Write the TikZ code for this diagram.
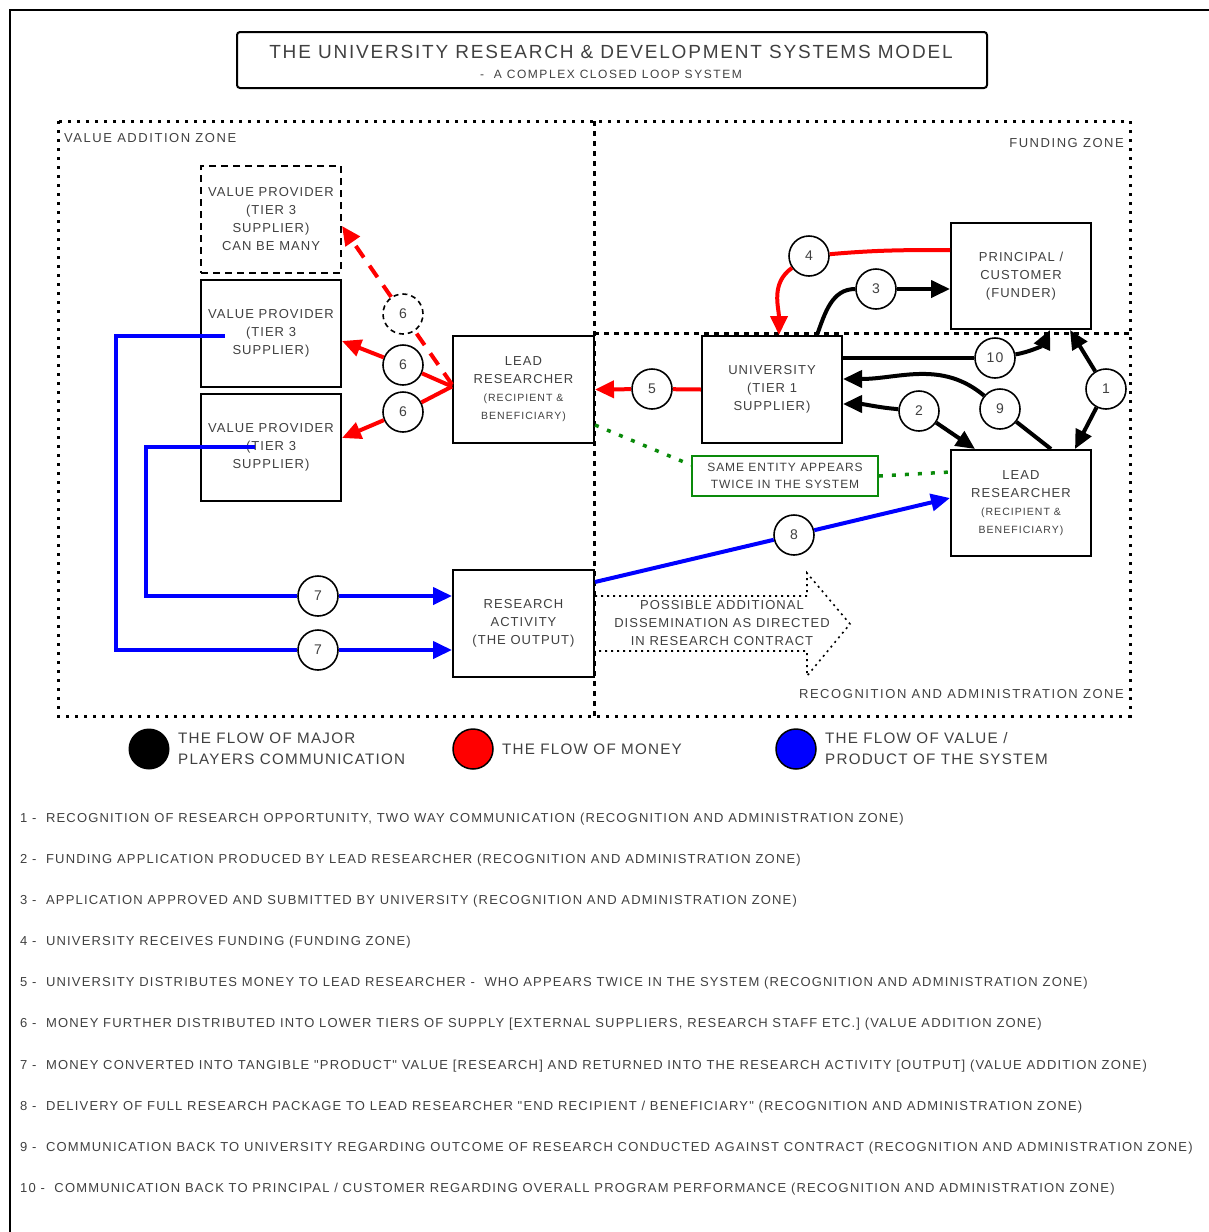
\documentclass[tikz,border=0pt]{standalone}
\usepackage{fontspec}
\setmainfont{Liberation Sans}[LetterSpace=8, Ligatures=TeXOff]
\usetikzlibrary{arrows.meta}
\definecolor{txt}{HTML}{404040}
\definecolor{sgreen}{HTML}{0A8A0A}
\newcommand\myfs[2]{\fontsize{#1pt}{#2pt}\selectfont}
\newcommand\myls[1]{\addfontfeatures{LetterSpace=#1}}
\begin{document}
\begin{tikzpicture}[x=1pt,y=1pt,
  >={Triangle[length=19pt,width=17pt]},
  box/.style={draw, line width=2pt, minimum width=140pt, minimum height=107pt, align=center, text=txt, inner sep=0pt, font=\myfs{13}{18}},
  circ/.style={circle, draw, line width=1.6pt, minimum size=40pt, inner sep=0pt, fill=white, text=txt, font=\myfs{14}{14}},
  comm/.style={line width=4pt, draw=black},
  money/.style={line width=4pt, draw=red},
  value/.style={line width=4pt, draw=blue},
  zone/.style={line width=3pt, dash pattern=on 3pt off 6pt},
  zonediv/.style={line width=3pt, dash pattern=on 5pt off 5pt},
  lbl/.style={inner sep=0pt, text=txt, font=\myfs{13}{18}},
  zlbl/.style={inner sep=0pt, text=txt, font=\myfs{13}{18}\myls{12}},
  listline/.style={anchor=west, inner sep=0pt, text=txt, font=\myfs{13}{15}\myls{9}},
  legtxt/.style={anchor=west, inner sep=0pt, text=txt, align=left, font=\myfs{15.2}{21}}
]
\useasboundingbox (0,0) rectangle (1209,-1232);
% outer frame
\draw[line width=2pt] (10,-1232) -- (10,-10) -- (1209,-10);
% title
\node[draw, rounded corners=3pt, line width=2pt, minimum width=750pt, minimum height=56pt, inner sep=0pt] (titlebox) at (612,-60) {};
\node[lbl, font=\myfs{19}{22}\myls{9.5}] (title) at (611,-52) {THE UNIVERSITY RESEARCH \& DEVELOPMENT SYSTEMS MODEL};
\node[lbl, font=\myfs{12}{14}\myls{13}] (subtitle) at (611,-74) {-\ \ A COMPLEX CLOSED LOOP SYSTEM};
% zones
\draw[zone] (58,-121) rectangle (1130,-716);
\draw[zonediv] (594,-121) -- (594,-716);
\draw[zonediv] (594,-333) -- (1130,-333);
\node[zlbl, anchor=west] (zva) at (64,-138) {VALUE ADDITION ZONE};
\node[zlbl, anchor=east] (zfu) at (1124,-143) {FUNDING ZONE};
\node[zlbl, anchor=east] (zra) at (1124,-694) {RECOGNITION AND ADMINISTRATION ZONE};
% boxes
\node[box, dash pattern=on 7pt off 5pt] (vp0) at (271,-219.5) {VALUE PROVIDER\\(TIER 3\\SUPPLIER)\\CAN BE MANY};
\node[box] (vp1) at (271,-333.5) {VALUE PROVIDER\\(TIER 3\\SUPPLIER)};
\node[box] (vp2) at (271,-447.5) {VALUE PROVIDER\\(TIER 3\\SUPPLIER)};
\node[box, minimum width=141pt] (lr1) at (523.5,-389.5) {LEAD\\RESEARCHER\\{\myfs{10.5}{16}\myls{10}(RECIPIENT \&}\\{\myfs{10.5}{16}\myls{10}BENEFICIARY)}};
\node[box, minimum width=141pt] (ra) at (523.5,-623.5) {RESEARCH\\ACTIVITY\\(THE OUTPUT)};
\node[box] (uni) at (772,-389.5) {UNIVERSITY\\(TIER 1\\SUPPLIER)};
\node[box, minimum height=106pt] (pc) at (1021,-276) {PRINCIPAL /\\CUSTOMER\\(FUNDER)};
\node[box, minimum height=106pt] (lr2) at (1021,-503) {LEAD\\RESEARCHER\\{\myfs{10.5}{16}\myls{10}(RECIPIENT \&}\\{\myfs{10.5}{16}\myls{10}BENEFICIARY)}};
\node[draw=sgreen, line width=1.8pt, minimum width=186pt, minimum height=40pt, inner sep=0pt, align=center, text=txt, font=\myfs{12}{17}] (sg) at (785,-476) {SAME ENTITY APPEARS\\TWICE IN THE SYSTEM};
% circles
\node[circ] (c4) at (809,-256) {4};
\node[circ] (c3) at (876,-289) {3};
\node[circ] (c10) at (995,-358) {10};
\node[circ] (c1) at (1106,-389) {1};
\node[circ] (c9) at (1000,-409) {9};
\node[circ] (c2) at (919,-411) {2};
\node[circ] (c5) at (652,-389) {5};
\node[circ, dash pattern=on 5pt off 4pt] (c6d) at (403,-314) {6};
\node[circ] (c6a) at (403,-365) {6};
\node[circ] (c6b) at (403,-412) {6};
\node[circ] (c8) at (794,-535) {8};
\node[circ] (c7a) at (318,-596) {7};
\node[circ] (c7b) at (318,-650) {7};
% money
\draw[money] ([yshift=26pt]pc.west) to[out=180,in=5] (c4);
\draw[money,->] (c4) to[out=215,in=90] ([xshift=7pt]uni.north);
\draw[money] (uni.west) -- (c5);
\draw[money,->] (c5) -- (lr1.east);
\draw[money] ([yshift=3pt]lr1.west) -- (c6a);
\draw[money,->] (c6a) -- ([yshift=-7.5pt]vp1.east);
\draw[money] ([yshift=3pt]lr1.west) -- (c6b);
\draw[money,->] (c6b) -- ([yshift=9.5pt]vp2.east);
\draw[money, dash pattern=on 14pt off 10pt] ([yshift=5pt]lr1.west) -- (c6d);
\draw[money, dash pattern=on 14pt off 10pt, ->] (c6d) -- ([yshift=-6.5pt]vp0.east);
% value
\coordinate (b1) at (225,-336);
\coordinate (b2) at (255,-447);
\draw[value] (b1) -- ++(-109,0) |- (c7b);
\draw[value,->] (c7b) -- (c7b -| ra.west);
\draw[value] (b2) -- ++(-109,0) |- (c7a);
\draw[value,->] (c7a) -- (c7a -| ra.west);
\draw[value] ([yshift=41.5pt]ra.east) -- (c8);
\draw[value,->] (c8) -- ([yshift=5pt]lr2.west);
% communication
\draw[comm] ([xshift=45pt]uni.north) to[out=70,in=180] (c3);
\draw[comm,->] (c3) -- (c3 -| pc.west);
\draw[comm] (uni.east |- c10) -- (c10);
\draw[comm,->] (c10) to[out=10,in=245] ([xshift=29pt]pc.south);
\draw[comm,->] (c1) -- ([xshift=49pt]pc.south);
\draw[comm,->] (c1) -- ([xshift=54pt]lr2.north);
\draw[comm] ([xshift=30pt]lr2.north) -- (c9);
\draw[comm,->] (c9) to[out=140,in=0] ([yshift=10.5pt]uni.east);
\draw[comm,->] (c2) to[out=175,in=0] ([yshift=-14.5pt]uni.east);
\draw[comm,->] (c2) -- ([xshift=-46pt]lr2.north);
% same entity
\draw[sgreen, line width=3.5pt, dash pattern=on 4pt off 9pt] ([yshift=-35.5pt]lr1.east) -- ([yshift=11pt]sg.west);
\draw[sgreen, line width=3.5pt, dash pattern=on 4pt off 9pt] (sg.east) -- ([yshift=31pt]lr2.west);
% dissemination arrow
\draw[line width=1.6pt, dash pattern=on 2pt off 4pt] (ra.east |- 0,-596) -- (807,-596) -- (807,-573) -- (850,-624) -- (807,-676) -- (807,-651) -- (ra.east |- 0,-651);
\node[lbl, align=center] (diss) at (722,-623.5) {POSSIBLE ADDITIONAL\\DISSEMINATION AS DIRECTED\\IN RESEARCH CONTRACT};
% legend
\node[circle, fill=black, minimum size=41pt, inner sep=0pt] (lk) at (149,-749) {};
\node[circle, fill=red, draw=black, line width=1.5pt, minimum size=40pt, inner sep=0pt] (lr) at (473,-749) {};
\node[circle, fill=blue, draw=black, line width=1.5pt, minimum size=40pt, inner sep=0pt] (lb) at (796,-749) {};
\node[legtxt] (lkt) at (178,-748.5) {THE FLOW OF MAJOR\\PLAYERS COMMUNICATION};
\node[legtxt] (lrt) at (502,-749) {THE FLOW OF MONEY};
\node[legtxt] (lbt) at (825,-748.5) {THE FLOW OF VALUE /\\PRODUCT OF THE SYSTEM};
% list
\node[listline] (l1) at (20,-819) {1 -\ \ RECOGNITION OF RESEARCH OPPORTUNITY, TWO WAY COMMUNICATION (RECOGNITION AND ADMINISTRATION ZONE)};
\node[listline] (l2) at (20,-860) {2 -\ \ FUNDING APPLICATION PRODUCED BY LEAD RESEARCHER (RECOGNITION AND ADMINISTRATION ZONE)};
\node[listline] (l3) at (20,-901) {3 -\ \ APPLICATION APPROVED AND SUBMITTED BY UNIVERSITY (RECOGNITION AND ADMINISTRATION ZONE)};
\node[listline] (l4) at (20,-942) {4 -\ \ UNIVERSITY RECEIVES FUNDING (FUNDING ZONE)};
\node[listline] (l5) at (20,-983) {5 -\ \ UNIVERSITY DISTRIBUTES MONEY TO LEAD RESEARCHER -\ \ WHO APPEARS TWICE IN THE SYSTEM (RECOGNITION AND ADMINISTRATION ZONE)};
\node[listline] (l6) at (20,-1024) {6 -\ \ MONEY FURTHER DISTRIBUTED INTO LOWER TIERS OF SUPPLY [EXTERNAL SUPPLIERS, RESEARCH STAFF ETC.] (VALUE ADDITION ZONE)};
\node[listline] (l7) at (20,-1066) {7 -\ \ MONEY CONVERTED INTO TANGIBLE "PRODUCT" VALUE [RESEARCH] AND RETURNED INTO THE RESEARCH ACTIVITY [OUTPUT] (VALUE ADDITION ZONE)};
\node[listline] (l8) at (20,-1107) {8 -\ \ DELIVERY OF FULL RESEARCH PACKAGE TO LEAD RESEARCHER "END RECIPIENT / BENEFICIARY" (RECOGNITION AND ADMINISTRATION ZONE)};
\node[listline] (l9) at (20,-1148) {9 -\ \ COMMUNICATION BACK TO UNIVERSITY REGARDING OUTCOME OF RESEARCH CONDUCTED AGAINST CONTRACT (RECOGNITION AND ADMINISTRATION ZONE)};
\node[listline] (l10) at (20,-1189) {10 -\ \ COMMUNICATION BACK TO PRINCIPAL / CUSTOMER REGARDING OVERALL PROGRAM PERFORMANCE (RECOGNITION AND ADMINISTRATION ZONE)};
\end{tikzpicture}
\end{document}
